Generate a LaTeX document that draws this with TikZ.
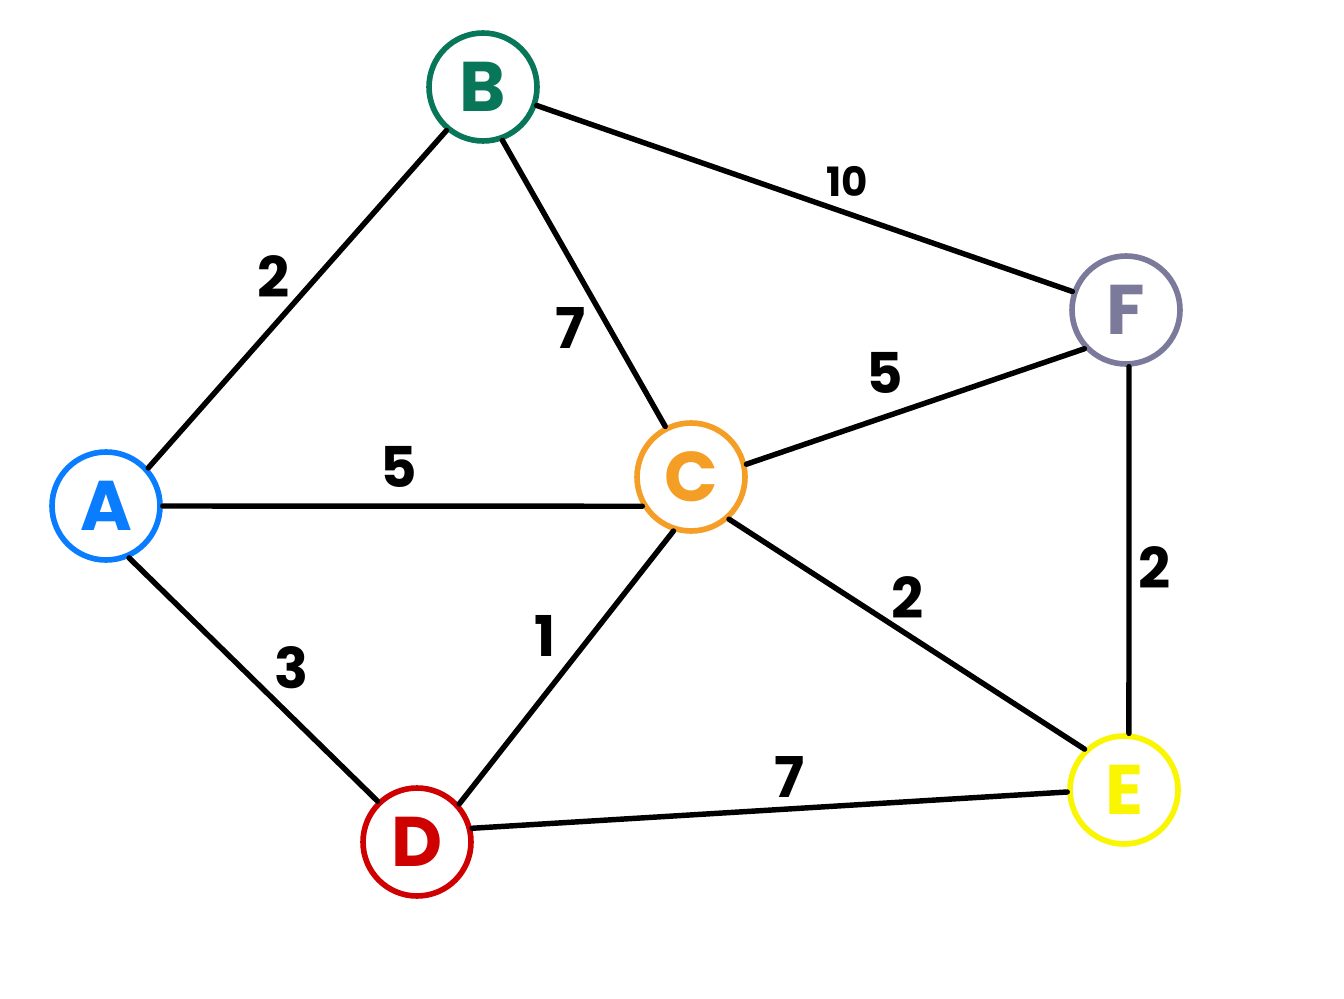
\documentclass[tikz,border=0pt]{standalone}
\usepackage{fontspec}
\setmainfont{Poppins}
\definecolor{cA}{RGB}{10,125,255}
\definecolor{cB}{RGB}{8,118,88}
\definecolor{cC}{RGB}{245,158,38}
\definecolor{cD}{RGB}{206,0,0}
\definecolor{cE}{RGB}{250,245,0}
\definecolor{cF}{RGB}{124,122,155}
\begin{document}
\begin{tikzpicture}[x=0.02cm,y=-0.02cm,
  vtx/.style={circle, draw, line width=3.2pt, minimum size=2.16cm, inner sep=0pt,
    font=\fontsize{40}{40}\selectfont\bfseries},
  edge/.style={line width=3.1pt, black, line cap=round},
  wt/.style={font=\fontsize{32}{32}\selectfont\bfseries, inner sep=0pt},
  wts/.style={font=\fontsize{23}{23}\selectfont\bfseries, inner sep=0pt}]
\useasboundingbox (0,0) rectangle (1344,999);
\fill[white] (0,0) rectangle (1344,999);
\node[vtx, draw=cA, text=cA] (A) at (106,506) {A};
\node[vtx, draw=cB, text=cB] (B) at (483,87) {B};
\node[vtx, draw=cC, text=cC] (C) at (691,477) {C};
\node[vtx, draw=cD, text=cD] (D) at (417,842) {D};
\node[vtx, draw=cE, text=cE] (E) at (1124,790) {E};
\node[vtx, draw=cF, text=cF] (F) at (1126,310) {F};
\draw[edge] (A.42) -- (B.230);
\draw[edge] (A.0) -- (C.211);
\draw[edge] (A.-66) -- (D.134);
\draw[edge] (B.-70) -- (C.117);
\draw[edge] (B.-19) -- (F.161);
\draw[edge] (C.13) -- (F.-137);
\draw[edge] (C.-108) -- (D.42);
\draw[edge] (C.-48) -- (E.134);
\draw[edge] (D.14) -- (E.182);
\draw[edge] (F.-87) -- (E.85);
\node[wt] (wAB) at (274,277) {2};
\node[wt] (wBC) at (571,328) {7};
\node[wts] (wBF) at (847,181) {10};
\node[wt] (wCF) at (885,373) {5};
\node[wt] (wAC) at (399,467) {5};
\node[wt] (wAD) at (292,668) {3};
\node[wt] (wCD) at (545,636) {1};
\node[wt] (wCE) at (908,598) {2};
\node[wt] (wEF) at (1155,568) {2};
\node[wt] (wDE) at (790,777) {7};
\end{tikzpicture}
\end{document}
